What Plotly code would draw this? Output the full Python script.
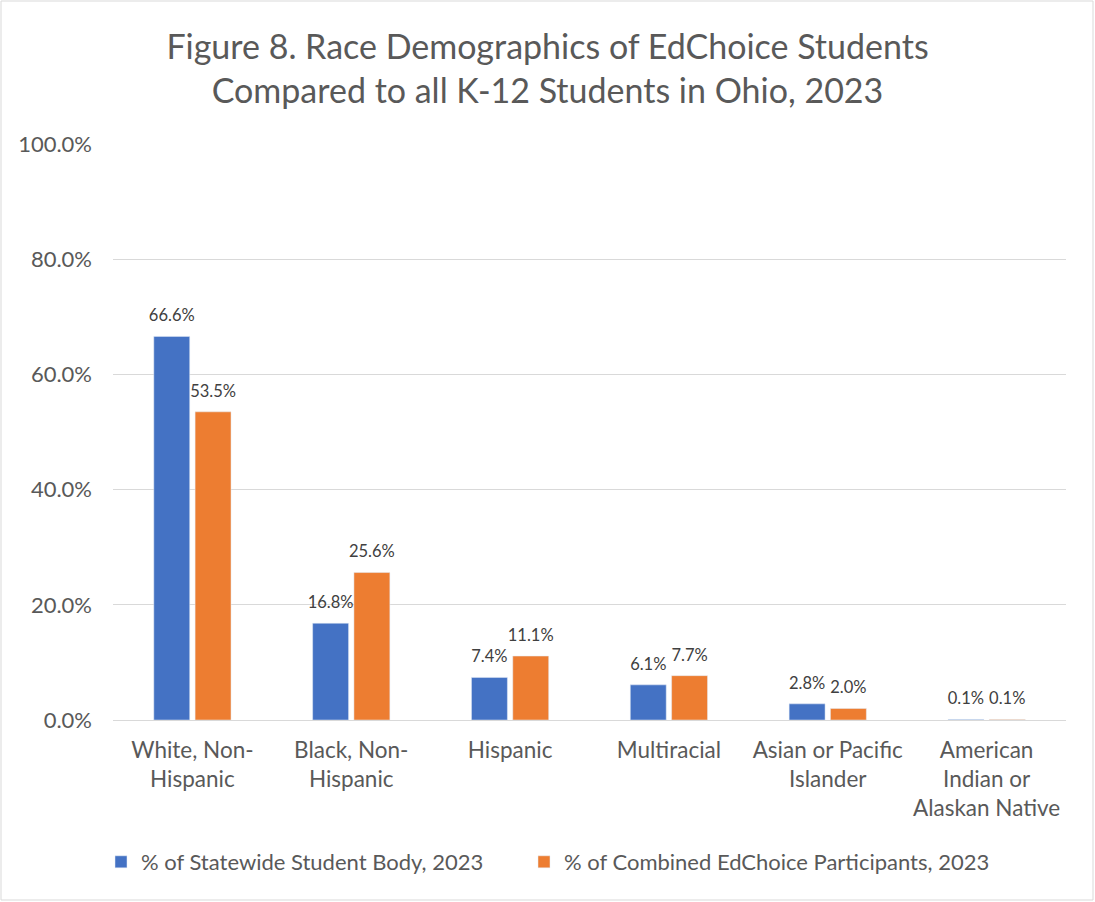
import plotly.graph_objects as go

categories = ["White, Non-<br>Hispanic", "Black, Non-<br>Hispanic", "Hispanic", "Multiracial",
              "Asian or Pacific<br>Islander", "American<br>Indian or<br>Alaskan Native"]
statewide = [66.6, 16.8, 7.4, 6.1, 2.8, 0.1]
edchoice = [53.5, 25.6, 11.1, 7.7, 2.0, 0.1]
series_names = ["% of Statewide Student Body, 2023", "% of Combined EdChoice Participants, 2023"]
y_ticks = [0, 20, 40, 60, 80, 100]
y_tick_labels = ["0.0%", "20.0%", "40.0%", "60.0%", "80.0%", "100.0%"]

FONT = "Lato"
fig = go.Figure()
for vals, name, col, lg in [(statewide, series_names[0], "#4472C4", "legend"),
                            (edchoice, series_names[1], "#ED7D31", "legend2")]:
    fig.add_trace(go.Bar(x=categories, y=vals, name=name, marker_color=col, hoverinfo="skip",
                         legend=lg))
# data labels as grouped text traces (aligned with the bar groups)
for vals in (statewide, edchoice):
    fig.add_trace(go.Scatter(x=categories, y=vals, mode="markers+text", showlegend=False,
                             texttemplate="%{y:.1f}%", textposition="top center", cliponaxis=False,
                             marker=dict(size=16, opacity=0), hoverinfo="skip",
                             textfont=dict(size=16.5, color="#404040", family=FONT)))

L, R, T, B = 113, 29, 144, 182
W, H = 1095, 902
pw, ph = W - L - R, H - T - B

legend_common = dict(orientation="h", xanchor="left", y=(720 - 862) / ph, yanchor="middle",
                     font=dict(size=22, color="#595959", family=FONT), itemwidth=30,
                     bgcolor="rgba(0,0,0,0)")

fig.update_layout(
    width=W, height=H,
    margin=dict(l=L, r=R, t=T, b=B, autoexpand=False),
    paper_bgcolor="white", plot_bgcolor="white",
    font=dict(family=FONT, color="#595959"),
    title=dict(text="Figure 8. Race Demographics of EdChoice Students<br>Compared to all K-12 Students in Ohio, 2023",
               x=0.5, xanchor="center", xref="container", y=1 - 59 / H, yanchor="middle",
               font=dict(size=34, color="#595959", family=FONT)),
    barmode="group", bargap=0.48, bargroupgap=0.13,
    scattermode="group", scattergap=0.48,
    showlegend=True,
    legend=dict(x=(101 - L) / pw, **legend_common),
    legend2=dict(x=(524 - L) / pw, **legend_common),
    xaxis=dict(showgrid=False, showline=False, ticks="", ticklabelstandoff=14, automargin=False,
               tickfont=dict(size=22.5, color="#595959", family=FONT)),
    yaxis=dict(range=[0, 100], tickvals=y_ticks, ticktext=y_tick_labels, automargin=False,
               showgrid=True, gridcolor="#d9d9d9", gridwidth=1.3,
               zeroline=True, zerolinecolor="#d9d9d9", zerolinewidth=1.3,
               showline=False, ticks="", ticklabelstandoff=20,
               tickfont=dict(size=22, color="#595959", family=FONT)),
    shapes=[dict(type="rect", xref="paper", yref="paper",
                 x0=(1 - L) / pw, x1=(W - 2 - L) / pw,
                 y0=(720 - (H - 2)) / ph, y1=(720 - 1) / ph,
                 line=dict(color="#d9d9d9", width=1), fillcolor="rgba(0,0,0,0)", layer="below")],
)
fig.write_html("out.html", config={"displayModeBar": False},
               post_script="document.body.style.margin='0';")
